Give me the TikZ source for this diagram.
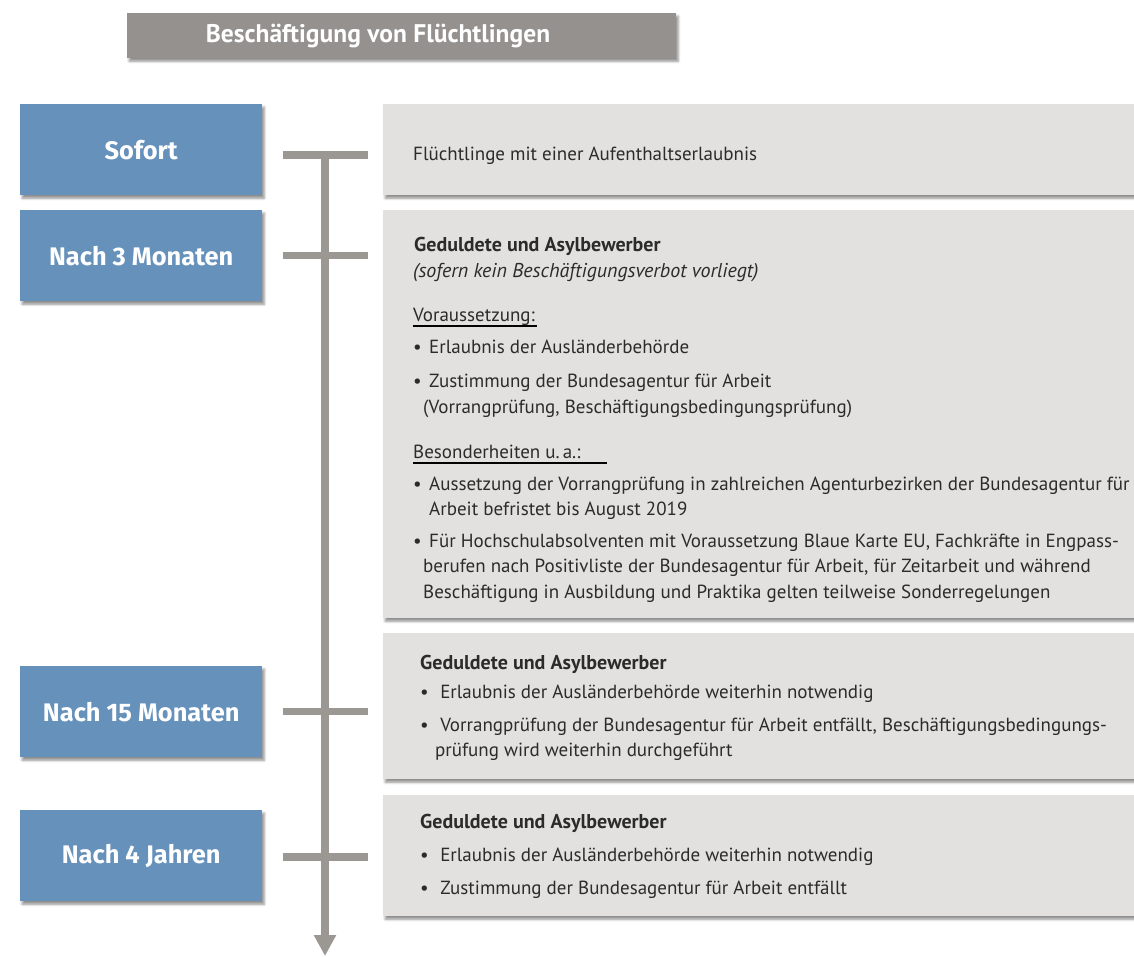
\documentclass[tikz,border=0pt]{standalone}
\usepackage{fontspec}
\setmainfont{PT Sans}
\newfontfamily\labfont{Fira Sans}
\usetikzlibrary{shadows.blur,arrows.meta}
\definecolor{titlegray}{HTML}{95918E}
\definecolor{lblue}{HTML}{6591BB}
\definecolor{boxgray}{HTML}{E2E1E0}
\definecolor{linegray}{HTML}{9B9793}
\definecolor{txtcol}{HTML}{2B2B2B}
\tikzset{
 shad/.style={blur shadow={shadow xshift=2pt,shadow yshift=-3pt,shadow blur radius=2.5pt,shadow opacity=45}},
 titlebox/.style={shad, fill=titlegray, anchor=north west, inner sep=0, minimum width=549pt, minimum height=45pt},
 titletext/.style={inner sep=0, text=white, font=\fontsize{25.5}{28}\selectfont\bfseries},
 lbl/.style={shad, fill=lblue, anchor=north west, inner sep=0, minimum width=242pt, minimum height=91pt, text=white, font=\labfont\fontsize{25.4}{28}\selectfont\bfseries},
 gbox/.style={shad, fill=boxgray, anchor=north west, inner sep=0, minimum width=760pt},
 tl/.style={draw=linegray, line width=7.5pt},
 tx/.style={anchor=base west, inner sep=0, text=txtcol, font=\fontsize{19}{22}\selectfont},
 txb/.style={tx, font=\fontsize{20}{23}\selectfont\bfseries},
 txi/.style={tx, font=\fontsize{20}{23}\selectfont\itshape},
 uline/.style={draw=black, line width=1.1pt},
}
\newcommand{\bul}[1][16pt]{\makebox[#1][l]{•}}
\begin{document}
\begin{tikzpicture}[x=1pt,y=-1pt]
\useasboundingbox (0,0) rectangle (1134,956);
% title
\node[titlebox] (titlebg) at (127,13) {};
\node[titletext] (title) at (378,36) {Beschäftigung von Flüchtlingen};
% gray boxes
\node[gbox, minimum height=91pt] (b1) at (383,104) {};
\node[gbox, minimum height=408pt] (b2) at (383,210) {};
\node[gbox, minimum height=146pt] (b3) at (383,633) {};
\node[gbox, minimum height=121pt] (b4) at (383,795) {};
% labels
\node[lbl] (sofort) at (20,104) {Sofort};
\node[lbl] (n3) at (20,210) {Nach 3 Monaten};
\node[lbl] (n15) at (20,666) {Nach 15 Monaten};
\node[lbl] (n4) at (20,810) {Nach 4 Jahren};
% timeline
\coordinate (vtop) at (325,155);
\coordinate (vbot) at (325,956);
\draw[tl, -{Triangle[width=21pt,length=21pt]}] (vtop) -- (vbot);
\draw[tl] ([xshift=21pt,yshift=-5.5pt]sofort.east) -- ++(85,0);
\draw[tl] ([xshift=21pt]n3.east) -- ++(85,0);
\draw[tl] ([xshift=21pt]n15.east) -- ++(85,0);
\draw[tl] ([xshift=21pt,yshift=-1.5pt]n4.east) -- ++(85,0);
% box 1
\node[tx] (f1) at (413,160) {Flüchtlinge mit einer Aufenthaltserlaubnis};
% box 2
\node[txb] (g2) at (414,251) {Geduldete und Asylbewerber};
\node[txi] (s2) at (413,277) {(sofern kein Beschäftigungsverbot vorliegt)};
\node[tx] (v2) at (413,321) {Voraussetzung:};
\draw[uline] ([yshift=-5pt]v2.base west) -- ++(124,0);
\node[tx] (e2) at (413,353) {\bul Erlaubnis der Ausländerbehörde};
\node[tx] (z2) at (413,387) {\bul Zustimmung der Bundesagentur für Arbeit};
\node[tx] (z2b) at (423,413) {(Vorrangprüfung, Beschäftigungsbedingungsprüfung)};
\node[tx] (bs2) at (413,458) {Besonderheiten u.\,a.:};
\draw[uline] ([yshift=-5pt]bs2.base west) -- ++(194,0);
\node[tx] (a2) at (413,490) {\bul Aussetzung der Vorrangprüfung in zahlreichen Agenturbezirken der Bundesagentur für};
\node[tx] (a2b) at (429,515) {Arbeit befristet bis August 2019};
\node[tx] (h2) at (413,547) {\bul Für Hochschulabsolventen mit Voraussetzung Blaue Karte EU, Fachkräfte in Engpass-};
\node[tx] (h2b) at (423,572) {berufen nach Positivliste der Bundesagentur für Arbeit, für Zeitarbeit und während};
\node[tx] (h2c) at (423,598) {Beschäftigung in Ausbildung und Praktika gelten teilweise Sonderregelungen};
% box 3
\node[txb] (g3) at (420,669) {Geduldete und Asylbewerber};
\node[tx] (e3) at (420,698) {\bul[15pt] Erlaubnis der Ausländerbehörde weiterhin notwendig};
\node[tx] (v3) at (420,731) {\bul[15pt] Vorrangprüfung der Bundesagentur für Arbeit entfällt, Beschäftigungsbedingungs-};
\node[tx] (v3b) at (435,756) {prüfung wird weiterhin durchgeführt};
% box 4
\node[txb] (g4) at (420,828) {Geduldete und Asylbewerber};
\node[tx] (e4) at (420,861) {\bul[15pt] Erlaubnis der Ausländerbehörde weiterhin notwendig};
\node[tx] (z4) at (420,894) {\bul[15pt] Zustimmung der Bundesagentur für Arbeit entfällt};
\end{tikzpicture}
\end{document}
